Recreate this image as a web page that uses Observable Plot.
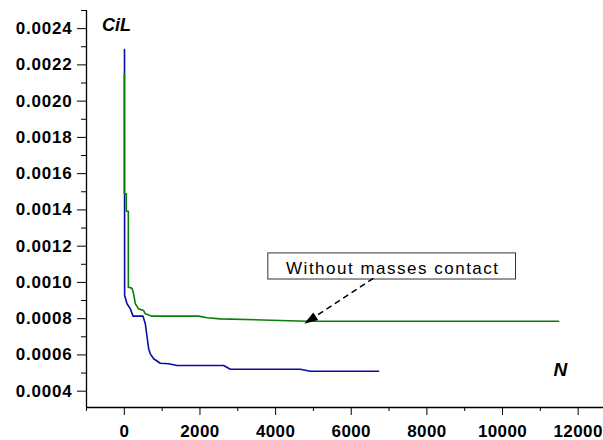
<!DOCTYPE html>
<html>
<head>
<meta charset="utf-8">
<script src="https://cdn.jsdelivr.net/npm/d3@7"></script>
<script src="https://cdn.jsdelivr.net/npm/@observablehq/plot@0.6"></script>
<style>
  html, body { margin: 0; padding: 0; background: #fff; }
  #chart svg { font-family: Arial, "Liberation Sans", sans-serif; }
</style>
</head>
<body>
<div id="chart"></div>
<script>
// ---- data ----
const blueN = [5, 8, 71, 159, 230, 494, 555, 643, 687, 775, 952, 1171, 1393, 2626, 2803, 4654, 4918, 6724];
const blueC = [0.002285, 0.000928, 0.000882, 0.000854, 0.000814, 0.000814, 0.000772, 0.000634, 0.000606, 0.000579, 0.000554, 0.000551, 0.000542, 0.000542, 0.000521, 0.000521, 0.000510, 0.000510];

const greenN = [0, 0, 53, 53, 106, 106, 204, 246, 291, 378, 510, 555, 732, 1965, 2187, 2538, 4831, 11484];
const greenC = [0.002151, 0.001489, 0.001489, 0.001393, 0.001393, 0.000974, 0.000968, 0.000937, 0.000882, 0.000854, 0.000845, 0.000827, 0.000814, 0.000814, 0.000805, 0.000799, 0.000786, 0.000786];

const yMajor = [0.0004, 0.0006, 0.0008, 0.0010, 0.0012, 0.0014, 0.0016, 0.0018, 0.0020, 0.0022, 0.0024];
const yMinor = [0.0005, 0.0007, 0.0009, 0.0011, 0.0013, 0.0015, 0.0017, 0.0019, 0.0021, 0.0023, 0.0025];
const xMajor = [0, 2000, 4000, 6000, 8000, 10000, 12000];
const xMinor = [-1000, 1000, 3000, 5000, 7000, 9000, 11000];

const xDomain = [-1000, 12670];
const yDomain = [0.00031, 0.0025];

// annotation
const noteText = ["Without masses contact"];
const noteBox = [{x1: 3808, x2: 10357, y1: 0.001016, y2: 0.00116}];
const noteTextPos = [{x: 7099, y: 0.001077}];
const arrowLine = [{x1: 6584, y1: 0.001022, x2: 4980, y2: 0.000803}];
const arrowHead = [{x: 4960, y: 0.000800}];
const yLabel = [{x: -590, y: 0.002386, t: "CiL"}];
const xLabel = [{x: 11351, y: 0.000483, t: "N"}];

const blue = blueN.map((n, i) => ({n, c: blueC[i]}));
const green = greenN.map((n, i) => ({n, c: greenC[i]}));

const chart = Plot.plot({
  width: 603,
  height: 440,
  marginLeft: 86,
  marginRight: 0,
  marginTop: 10,
  marginBottom: 33,
  x: {domain: xDomain},
  y: {domain: yDomain},
  marks: [
    Plot.axisY({ticks: yMajor, tickFormat: d3.format(".4f"), tickSize: 9, tickPadding: 5,
      fontSize: 17, fontWeight: "bold", label: null, stroke: "#000"}),
    Plot.axisY({ticks: yMinor, tickSize: 5, text: null, label: null, stroke: "#000"}),
    Plot.axisX({ticks: xMajor, tickFormat: d => String(d), tickSize: 8, tickPadding: 9,
      fontSize: 17, fontWeight: "bold", label: null, stroke: "#000"}),
    Plot.axisX({ticks: xMinor, tickSize: 4, text: null, label: null, stroke: "#000"}),
    Plot.ruleX([xDomain[0]], {stroke: "#000", strokeWidth: 1.3}),
    Plot.ruleY([yDomain[0]], {stroke: "#000", strokeWidth: 1.3}),
    Plot.line(blue, {x: "n", y: "c", stroke: "#0b0ba8", strokeWidth: 1.6}),
    Plot.line(green, {x: "n", y: "c", stroke: "#0a7d0a", strokeWidth: 1.6}),
    Plot.rect(noteBox, {x1: "x1", x2: "x2", y1: "y1", y2: "y2", fill: "#fff", stroke: "#333", strokeWidth: 1}),
    Plot.text(noteTextPos, {x: "x", y: "y", text: () => noteText[0], fontSize: 17, textAnchor: "middle", lineAnchor: "middle", fill: "#000", className: "note"}),
    Plot.link(arrowLine, {x1: "x1", y1: "y1", x2: "x2", y2: "y2", stroke: "#000", strokeWidth: 1.5, strokeDasharray: "6,4"}),
    Plot.dot(arrowHead, {x: "x", y: "y", symbol: "triangle", r: 4.5, fill: "#000", stroke: "none", className: "head"}),
    Plot.text(yLabel, {x: "x", y: "y", text: "t", fontSize: 18, fontWeight: "bold", fontStyle: "italic", textAnchor: "start", lineAnchor: "bottom", fill: "#000"}),
    Plot.text(xLabel, {x: "x", y: "y", text: "t", fontSize: 19, fontWeight: "bold", fontStyle: "italic", textAnchor: "start", lineAnchor: "bottom", fill: "#000"})
  ]
});

chart.querySelectorAll('[aria-label="y-axis tick label"] text').forEach(t => t.setAttribute("letter-spacing", "0.8"));
chart.querySelectorAll('[aria-label="x-axis tick label"] text').forEach(t => t.setAttribute("letter-spacing", "0.4"));
chart.querySelectorAll('g.note').forEach(g => g.setAttribute("letter-spacing", "1.5"));
// orient the arrowhead along the dashed arrow
chart.querySelectorAll('g.head path').forEach(p => {
  const tr = p.getAttribute("transform") || "";
  p.setAttribute("transform", tr + " rotate(-123) scale(0.75,1.3)");
});

document.getElementById("chart").appendChild(chart);
</script>
</body>
</html>
